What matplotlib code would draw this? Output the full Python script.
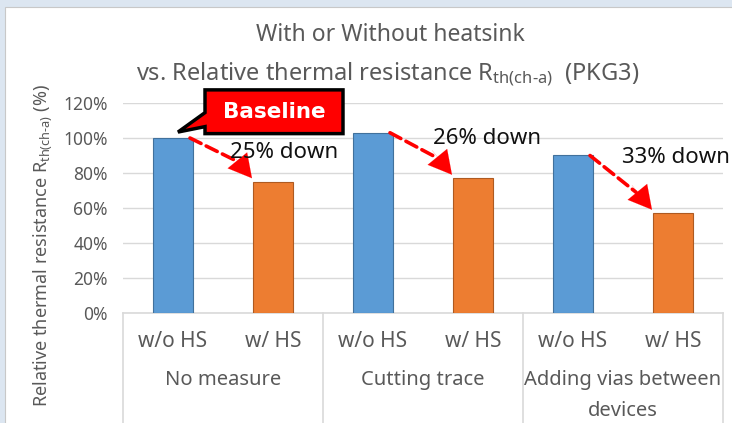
import matplotlib
matplotlib.use("Agg")
import matplotlib.pyplot as plt
from matplotlib.patches import Rectangle, Polygon
from matplotlib.ticker import FuncFormatter

plt.rcParams['font.family'] = ['Noto Sans', 'DejaVu Sans']
plt.rcParams['mathtext.fontset'] = 'custom'
plt.rcParams['mathtext.rm'] = 'Noto Sans'
plt.rcParams['mathtext.it'] = 'Noto Sans'

# Relative thermal resistance (%) per group: without / with heatsink
groups = ["No measure", "Cutting trace", "Adding vias between\ndevices"]
sub_labels = ["w/o HS", "w/ HS"]
without_hs = [100, 103, 90]
with_hs = [75, 77, 57]
drop_labels = ["25% down", "26% down", "33% down"]
# where each "down" label sits (x offset from the w/ HS bar, y in %)
drop_label_pos = [(-0.43, 92), (-0.40, 100), (-0.51, 88.6)]

yticks = [0, 20, 40, 60, 80, 100, 120]

blue = "#5b9bd5"
blue_edge = "#41719c"
orange = "#ed7d31"
orange_edge = "#ae5a21"
grey_text = "#595959"
grid_col = "#d9d9d9"

W, H = 732, 423
fig = plt.figure(figsize=(W / 100, H / 100), dpi=100)
fig.patch.set_facecolor("#dce6f1")
# white chart area with a faint border
fig.patches.append(Rectangle((5 / W, -0.1), 1, 1.1 - 7 / H, transform=fig.transFigure,
                             facecolor="white", edgecolor="#c8c8c8", lw=0.8, zorder=-5))

ax = fig.add_axes([123 / W, (H - 313) / H, 600 / W, 210 / H])
ax.set_facecolor("none")

x_wo = [2 * i for i in range(len(groups))]
x_w = [2 * i + 1 for i in range(len(groups))]
bw = 0.4
ax.bar(x_wo, without_hs, width=bw, color=blue, edgecolor=blue_edge, lw=0.8, zorder=3)
ax.bar(x_w, with_hs, width=bw, color=orange, edgecolor=orange_edge, lw=0.8, zorder=3)

ax.set_xlim(-0.5, 2 * len(groups) - 0.5)
ax.set_ylim(0, 120)
ax.set_yticks(yticks)
ax.yaxis.set_major_formatter(FuncFormatter(lambda v, p: f"{v:.0f}%"))
ax.tick_params(axis="y", length=0, pad=11, labelsize=12.5, labelcolor=grey_text)
ax.set_xticks([])
ax.grid(axis="y", color=grid_col, lw=1, zorder=0)
for s in ["top", "right", "left"]:
    ax.spines[s].set_visible(False)
ax.spines["bottom"].set_color(grid_col)
ax.spines["bottom"].set_linewidth(1.2)

# two-level category axis drawn as a table below the plot
xt = ax.get_xaxis_transform()
for k in range(len(groups) + 1):
    ax.plot([2 * k - 0.5] * 2, [0, -0.55], transform=xt, color=grid_col, lw=1.2,
            clip_on=False)
for i, g in enumerate(groups):
    for j, lab in enumerate(sub_labels):
        ax.text(2 * i + j, -0.138, lab, transform=xt, ha="center", va="center",
                fontsize=15, color=grey_text)
    ax.text(2 * i + 0.5, -0.27, g, transform=xt, ha="center", va="top",
            fontsize=14.5, color=grey_text, linespacing=1.75)

# dashed arrows from each w/o HS bar to its w/ HS bar
for i in range(len(groups)):
    x0, y0 = x_wo[i] + bw / 2 - 0.03, without_hs[i]
    x1, y1 = x_w[i] - bw / 2 - 0.01, with_hs[i] + 2
    ax.annotate("", xy=(x1 - 0.16, y1 + 10), xytext=(x0, y0),
                arrowprops=dict(arrowstyle="-", color="#ff0000", lw=2.6,
                                linestyle=(0, (3.4, 1.6)), shrinkA=0, shrinkB=0),
                zorder=5)
    ax.annotate("", xy=(x1, y1), xytext=(x1 - 0.2, y1 + 14),
                arrowprops=dict(arrowstyle="-|>,head_length=0.55,head_width=0.3",
                                color="#ff0000", lw=0.1, mutation_scale=30,
                                shrinkA=0, shrinkB=0),
                zorder=5)
    dx, dy = drop_label_pos[i]
    ax.text(x_w[i] + dx, dy, drop_labels[i], ha="left", va="center", fontsize=16,
            color="#111111", zorder=6, clip_on=False)

# "Baseline" callout pointing at the first bar
tip = (x_wo[0] + 0.05, without_hs[0] + 3.4)
bx0, bx1, by0, by1 = 0.32, 1.70, 102.5, 127.5
callout = Polygon([(bx0, by1), (bx1, by1), (bx1, by0), (bx0, by0), (bx0, 106.5),
                   tip, (bx0, 114.5)], closed=True, facecolor="#ff0000",
                  edgecolor="black", lw=2.5, joinstyle="miter", clip_on=False, zorder=7)
ax.add_patch(callout)
ax.text((bx0 + bx1) / 2, (by0 + by1) / 2, "Baseline", ha="center", va="center",
        fontsize=15.5, fontweight="bold", family="DejaVu Sans", color="white",
        zorder=8, clip_on=False)

fig.text(390 / W, 1 - 35 / H, "With or Without heatsink", ha="center", va="center",
         fontsize=16.5, color=grey_text)
fig.text(388 / W, 1 - 75 / H,
         r"vs. Relative thermal resistance R$_{\mathrm{th(ch\text{-}a)}}$  (PKG3)",
         ha="center", va="center", fontsize=17, color=grey_text)
fig.text(43 / W, 1 - 246 / H,
         r"Relative thermal resistance R$_{\mathrm{th(ch\text{-}a)}}$ (%)",
         rotation=90, ha="center", va="center", fontsize=13, color=grey_text)

fig.savefig("out.png", dpi=100)
